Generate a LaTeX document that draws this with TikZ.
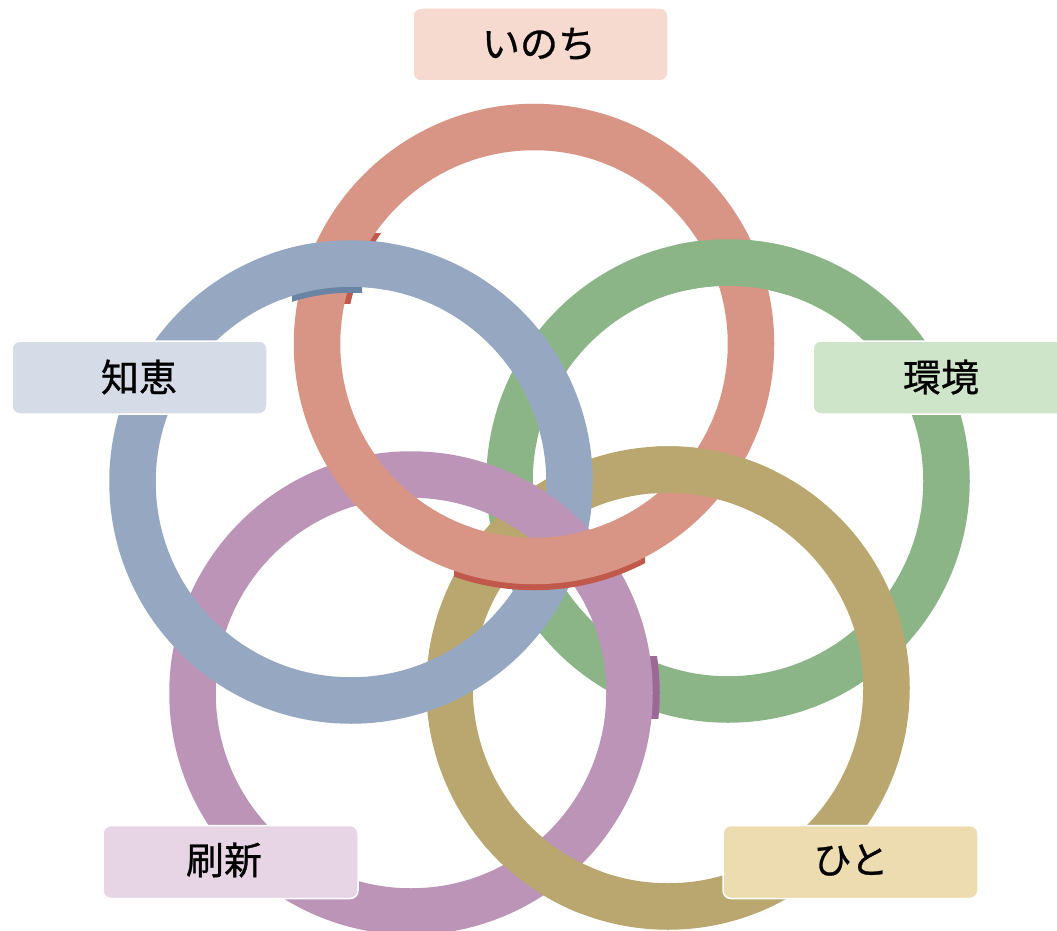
\documentclass[tikz,border=0pt]{standalone}
\usepackage{fontspec}
\newfontfamily\cjk[FakeBold=0.8]{Noto Sans CJK JP}
\usetikzlibrary{calc}
\definecolor{ringR}{HTML}{D89484}
\definecolor{ringRd}{HTML}{C0594B}
\definecolor{ringG}{HTML}{8BB587}
\definecolor{ringO}{HTML}{BAA66F}
\definecolor{ringP}{HTML}{BB94B7}
\definecolor{ringPd}{HTML}{9C6896}
\definecolor{ringB}{HTML}{96A8C1}
\definecolor{ringBd}{HTML}{6A84A4}
\definecolor{labR}{HTML}{F6DAD0}
\definecolor{labG}{HTML}{CFE5C9}
\definecolor{labO}{HTML}{EEDCB1}
\definecolor{labP}{HTML}{E7D4E4}
\definecolor{labB}{HTML}{D5DCE8}
\begin{document}
\begin{tikzpicture}[x=1pt,y=-1pt,
  ring/.style={line width=46.5pt},
  lab/.style={draw=white, line width=1.5pt, rounded corners=8pt,
    minimum width=255pt, minimum height=73pt, inner sep=0pt},
  labtext/.style={font=\cjk\fontsize{38}{42}\selectfont, text=black, inner sep=0pt}]
\fill[white] (0,0) rectangle (1057,931);
\useasboundingbox (0,0) rectangle (1057,931);
\coordinate (cR) at (534,344);
\coordinate (cG) at (728,481);
\coordinate (cO) at (668,688);
\coordinate (cP) at (411,693);
\coordinate (cB) at (351,482);
% base rings
\draw[ring, ringG] (cG) circle[radius=218.5pt];
\draw[ring, ringO] (cO) circle[radius=218.5pt];
\begin{scope}
  \clip (640,656) rectangle (661,718);
  \draw[ring, ringPd] ($(cP)+(7,0)$) circle[radius=218.5pt];
\end{scope}
\draw[ring, ringP] (cP) circle[radius=218.5pt];
\draw[ring, ringB] (cB) circle[radius=218.5pt];
% purple over blue (right crossing)
\begin{scope}
  \clip (563,535) circle[radius=62pt];
  \draw[ring, ringP] (cP) circle[radius=218.5pt];
\end{scope}
% olive over purple (bottom crossing)
\begin{scope}
  \clip (539,868) circle[radius=62pt];
  \draw[ring, ringO] (cO) circle[radius=218.5pt];
\end{scope}
% red ring with its dark edges
\begin{scope}
  \clip (454,520) rectangle (645,600);
  \draw[ring, ringRd] ($(cR)+(0,6)$) circle[radius=217pt];
\end{scope}
\begin{scope}
  \clip (330,233) rectangle (385,303);
  \draw[ring, ringRd] ($(cR)+(6,0)$) circle[radius=217pt];
\end{scope}
\draw[ring, ringR] (cR) circle[radius=217pt];
% green over red (top)
\begin{scope}
  \clip (736,262) circle[radius=62pt];
  \draw[ring, ringG] (cG) circle[radius=218.5pt];
\end{scope}
% blue over red (top left), with dark edge
\begin{scope}
  \clip (292,280) rectangle (362,306);
  \draw[ring, ringBd] ($(cB)+(0,6)$) circle[radius=218.5pt];
\end{scope}
\begin{scope}
  \clip (331,264) circle[radius=62pt];
  \draw[ring, ringB] (cB) circle[radius=218.5pt];
\end{scope}
% olive over red (right)
\begin{scope}
  \clip (712,473) circle[radius=62pt];
  \draw[ring, ringO] (cO) circle[radius=218.5pt];
\end{scope}
% labels
\node[lab, fill=labR] (inochi) at (540.5,44.5) {};
\node[labtext] (inochiT) at (539,44) {いのち};
\node[lab, fill=labG] (kankyo) at (940.5,377.5) {};
\node[labtext] (kankyoT) at (941,377) {環境};
\node[lab, fill=labB] (chie) at (139.5,377.5) {};
\node[labtext] (chieT) at (139,377) {知恵};
\node[lab, fill=labP] (sasshin) at (230.5,862) {};
\node[labtext] (sasshinT) at (224,860) {刷新};
\node[lab, fill=labO] (hito) at (850.5,862) {};
\node[labtext] (hitoT) at (851,860) {ひと};
\end{tikzpicture}
\end{document}
